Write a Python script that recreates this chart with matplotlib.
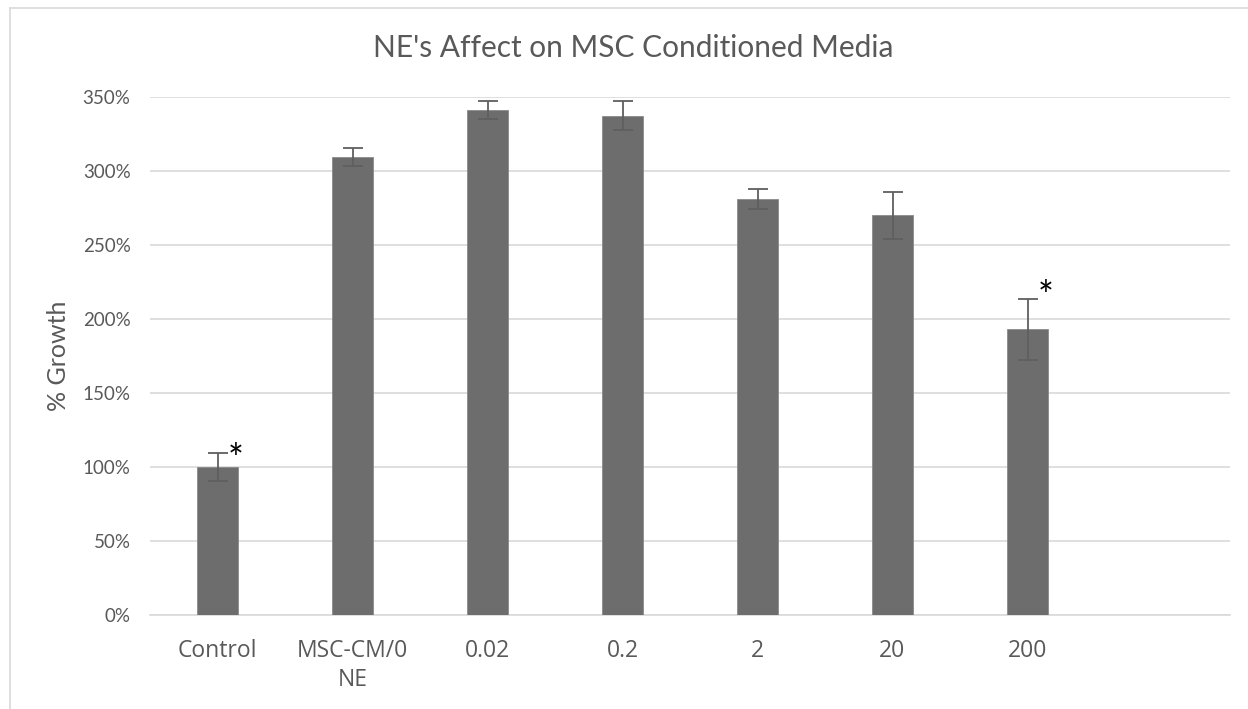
import numpy as np
import matplotlib.pyplot as plt
from matplotlib.ticker import PercentFormatter
from matplotlib.lines import Line2D

categories = ['Control', 'MSC-CM/0\nNE', '0.02', '0.2', '2', '20', '200', '']
growth = [100, 309.5, 341, 337.5, 281, 270, 193]
errors = [9.5, 6, 6, 10, 7, 16, 20.5]
significant = [True, False, False, False, False, False, True]

plt.rcParams['font.family'] = ['Lato', 'DejaVu Sans']
txt = '#595959'

fig = plt.figure(figsize=(12.48, 7.09), dpi=100)
ax = fig.add_axes([150 / 1248, 1 - 615 / 709, 1080 / 1248, 518 / 709])

x = np.arange(len(growth))
ax.bar(x, growth, width=0.31, color='#6d6d6d', edgecolor='#8a8a8a', linewidth=0.6, zorder=3)
ax.errorbar(x, growth, yerr=errors, fmt='none', ecolor='#5f5f5f', elinewidth=1.3,
            capsize=7, capthick=1.3, zorder=4)

# significance marks
for i, (g, e, s) in enumerate(zip(growth, errors, significant)):
    if s:
        ax.annotate('*', (i, g + e), xytext=(18, -8 if i == 0 else 1), textcoords='offset pixels',
                    ha='center', va='center', fontsize=27, color='black', zorder=5)

ax.set_xlim(-0.5, len(categories) - 0.5)
ax.set_ylim(0, 350)
ax.set_yticks(np.arange(0, 351, 50))
ax.yaxis.set_major_formatter(PercentFormatter(decimals=0))
ax.set_xticks(np.arange(len(categories)))
ax.set_xticklabels(categories, linespacing=1.3, family=['Open Sans', 'DejaVu Sans'])
ax.tick_params(axis='x', length=0, pad=17, labelsize=16.5, labelcolor=txt)
ax.tick_params(axis='y', length=0, pad=14, labelsize=13.5, labelcolor=txt)

ax.grid(axis='y', color='#d9d9d9', linewidth=1.2, zorder=0)
for side in ['top', 'right', 'left']:
    ax.spines[side].set_visible(False)
ax.spines['bottom'].set_color('#d9d9d9')
ax.spines['bottom'].set_linewidth(1.2)

ax.set_ylabel('% Growth', fontsize=18, color=txt, labelpad=9)
fig.text(633 / 1248, 1 - 48 / 709, "NE's Affect on MSC Conditioned Media",
         ha='center', va='center', fontsize=21.5, color=txt)

# outer chart border (top and left visible)
fig.add_artist(Line2D([10 / 1248, 1], [1 - 8 / 709, 1 - 8 / 709], color='#d9d9d9', lw=1.2))
fig.add_artist(Line2D([10 / 1248, 10 / 1248], [0, 1 - 8 / 709], color='#d9d9d9', lw=1.2))

fig.savefig('out.png', dpi=100)
